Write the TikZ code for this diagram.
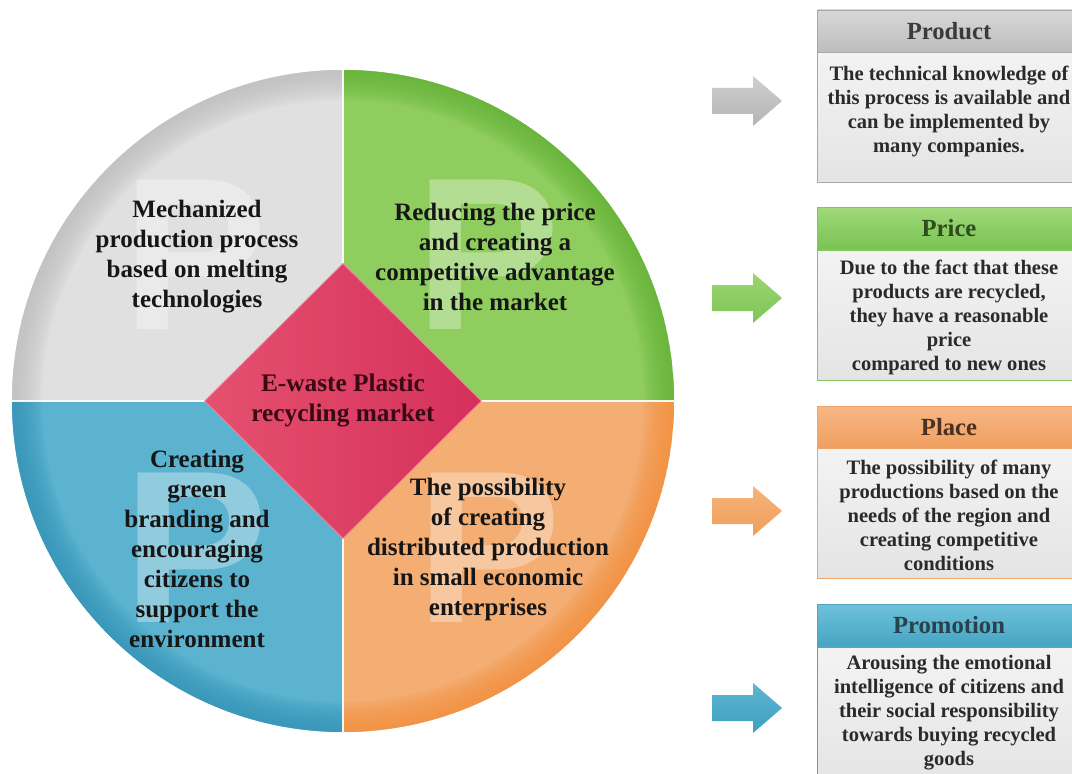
\documentclass[tikz,border=0pt]{standalone}
\usepackage{fontspec}
\setmainfont{Liberation Serif}
\newfontfamily\watermarkfont{Liberation Sans}
\usetikzlibrary{shapes.geometric}

% quadrant colours (inner tone / rim tone)
\definecolor{grayIn}{HTML}{E0E0E0}\definecolor{grayRim}{HTML}{BDBDBD}
\definecolor{greenIn}{HTML}{8FCD5E}\definecolor{greenRim}{HTML}{62B236}
\definecolor{blueIn}{HTML}{5BB3CF}\definecolor{blueRim}{HTML}{3393B8}
\definecolor{orangeIn}{HTML}{F4AD72}\definecolor{orangeRim}{HTML}{F28F3C}
% centre diamond
\definecolor{diamL}{HTML}{E5516F}\definecolor{diamR}{HTML}{D5305A}
\definecolor{diamEdge}{HTML}{F08AA0}\definecolor{diamInk}{HTML}{3A0A14}
% side boxes
\definecolor{prodTop}{HTML}{D8D8D8}\definecolor{prodBot}{HTML}{BDBDBD}\definecolor{prodEdge}{HTML}{A8A8A8}\definecolor{prodInk}{HTML}{3A3A3A}
\definecolor{priceTop}{HTML}{A0D87C}\definecolor{priceBot}{HTML}{79C351}\definecolor{priceEdge}{HTML}{84C55E}\definecolor{priceInk}{HTML}{2E4C1E}
\definecolor{placeTop}{HTML}{F7B786}\definecolor{placeBot}{HTML}{F09F5E}\definecolor{placeEdge}{HTML}{EFA46A}\definecolor{placeInk}{HTML}{4A3121}
\definecolor{promoTop}{HTML}{6EC2D9}\definecolor{promoBot}{HTML}{44A4C3}\definecolor{promoEdge}{HTML}{4CA7C5}\definecolor{promoInk}{HTML}{27424D}
\definecolor{bodyTop}{HTML}{F3F3F3}\definecolor{bodyBot}{HTML}{E4E4E4}
\definecolor{qink}{HTML}{161616}\definecolor{bodyInk}{HTML}{2A2A2A}
% arrows
\definecolor{arGrayT}{HTML}{CFCFCF}\definecolor{arGrayB}{HTML}{B4B4B4}
\definecolor{arGreenT}{HTML}{9BD571}\definecolor{arGreenB}{HTML}{7EC556}
\definecolor{arOrangeT}{HTML}{F6B47C}\definecolor{arOrangeB}{HTML}{EF9E58}
\definecolor{arBlueT}{HTML}{5DB7D1}\definecolor{arBlueB}{HTML}{3F9EBF}

\begin{document}
\begin{tikzpicture}[x=0.75pt,y=-0.75pt,
  qtext/.style={align=center, inner sep=0pt, text=qink,
    font=\bfseries\fontsize{18.75}{22.5}\selectfont},
  bigP/.style={inner sep=0pt, text=white, text opacity=0.33,
    font=\watermarkfont\bfseries\fontsize{163}{163}\selectfont},
  hub/.style={diamond, aspect=1, inner sep=0pt, minimum width=207.8pt,
    minimum height=206.5pt, left color=diamL, right color=diamR,
    draw=diamEdge, line width=0.6pt, align=center, text=diamInk,
    font=\bfseries\fontsize{19}{22.5}\selectfont},
  head/.style={rectangle, inner sep=0pt, minimum width=198pt, minimum height=31.5pt,
    line width=0.6pt, font=\bfseries\fontsize{18.5}{22}\selectfont},
  body/.style={rectangle, inner sep=0pt, minimum width=198pt, minimum height=97.5pt,
    top color=bodyTop, bottom color=bodyBot, line width=0.6pt},
  btext/.style={align=center, inner sep=0pt, text=bodyInk,
    font=\bfseries\fontsize{15.4}{18}\selectfont},
  separator/.style={white, line width=1.2pt, opacity=0.9}
]
\useasboundingbox (0,0) rectangle (1072,774);
\fill[white] (0,0) rectangle (1072,774);

% ---- the four quadrants of the disc, each darkening softly at the rim ----
\coordinate (O) at (343,401);
\foreach \a/\fillc/\rimc in {180/grayIn/grayRim, 270/greenIn/greenRim,
                             0/orangeIn/orangeRim, 90/blueIn/blueRim}{
  \begin{scope}
    \clip (O) -- ++(\a:331) arc[start angle=\a, delta angle=90, radius=331] -- cycle;
    \fill[\fillc] (O) circle[radius=331];
    \foreach \k in {0,...,11}
      \draw[\rimc, opacity=0.11, line width={(12-\k)*3.75pt}] (O) circle[radius=331];
  \end{scope}
}
\draw[separator] (12,401) -- (674,401);
\draw[separator] (343,70) -- (343,732);

% ---- faint letters P ----
\node[bigP] (pProduct) at (195,255) {P};
\node[bigP] (pPrice)   at (488,255) {P};
\node[bigP] (pPromo)   at (196,548) {P};
\node[bigP] (pPlace)   at (489,548) {P};

% ---- quadrant texts ----
\node[qtext] (qProduct) at (197,257) {Mechanized\\production process\\based on melting\\technologies};
\node[qtext] (qPrice)   at (495,257) {Reducing the price\\and creating a\\competitive advantage\\in the market};
\node[qtext] (qPromo)   at (197,549) {Creating\\green\\branding and\\encouraging\\citizens to\\support the\\environment};
\node[qtext] (qPlace)   at (488,549) {The possibility\\of creating\\distributed production\\in small economic\\enterprises};

% ---- centre ----
\node[hub] (market) at (343,401) {E-waste Plastic\\recycling market};

% ---- block arrows ----
\foreach \yc/\ct/\cb in {101/arGrayT/arGrayB, 298/arGreenT/arGreenB,
                         511/arOrangeT/arOrangeB, 708/arBlueT/arBlueB}{
  \shade[top color=\ct, bottom color=\cb]
    (712,{\yc-13}) -- (753,{\yc-13}) -- (753,{\yc-25}) -- (782,\yc)
    -- (753,{\yc+25}) -- (753,{\yc+13}) -- (712,{\yc+13}) -- cycle;
}

% ---- side boxes: header and body ----
\node[body, draw=prodEdge]  (prodB)  at (949,117) {};
\node[head, top color=prodTop, bottom color=prodBot, draw=prodEdge, text=prodInk] (prodH) at (949,31) {Product};
\node[btext] (prodT) at (949,111) {The technical knowledge of\\this process is available and\\can be implemented by\\many companies.};

\node[body, draw=priceEdge] (priceB) at (949,315) {};
\node[head, top color=priceTop, bottom color=priceBot, draw=priceEdge, text=priceInk] (priceH) at (949,228.5) {Price};
\node[btext] (priceT) at (949,317) {Due to the fact that these\\products are recycled,\\they have a reasonable\\price\\compared to new ones};

\node[body, draw=placeEdge] (placeB) at (949,513) {};
\node[head, top color=placeTop, bottom color=placeBot, draw=placeEdge, text=placeInk] (placeH) at (949,427) {Place};
\node[btext] (placeT) at (949,515) {The possibility of many\\productions based on the\\needs of the region and\\creating competitive\\conditions};

\node[body, draw=promoEdge, minimum height=105pt] (promoB) at (949,717) {};
\node[head, top color=promoTop, bottom color=promoBot, draw=promoEdge, text=promoInk] (promoH) at (949,625.5) {Promotion};
\node[btext] (promoT) at (949,713) {Arousing the emotional\\intelligence of citizens and\\their social responsibility\\towards buying recycled\\goods};
\end{tikzpicture}
\end{document}
